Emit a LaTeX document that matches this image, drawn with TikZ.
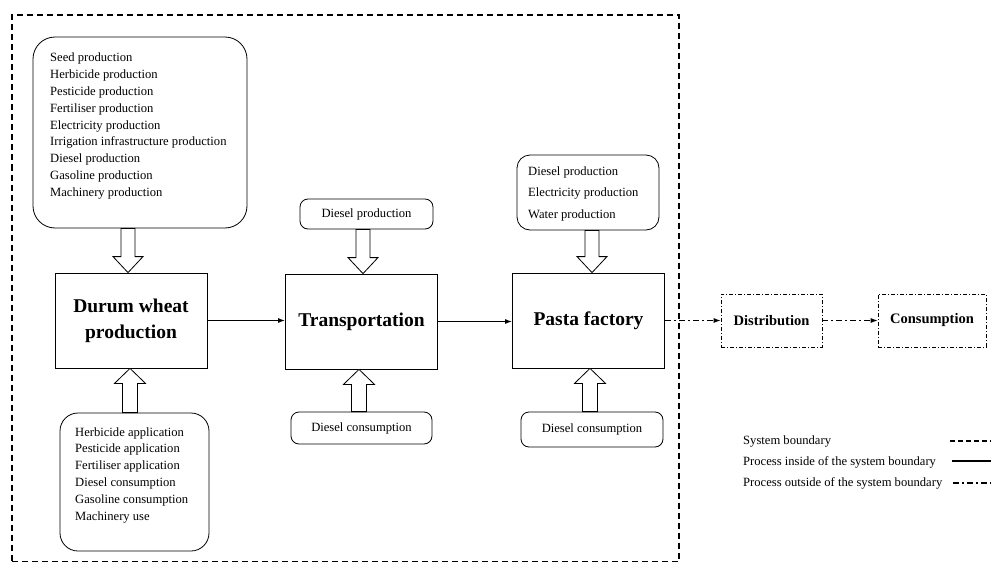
\documentclass[tikz,border=0pt]{standalone}
\usepackage{fontspec}
\setmainfont{Liberation Serif}
\usetikzlibrary{arrows.meta,calc}
\tikzset{
  sysbound/.style={draw, line width=1.3pt, dash pattern=on 6pt off 4pt},
  inbox/.style={draw, line width=0.8pt, inner sep=0pt},
  listtxt/.style={anchor=west, align=left, inner sep=0pt, font=\fontsize{12.6}{16.8}\selectfont},
  proc/.style={draw, line width=0.8pt, minimum width=152pt, minimum height=95pt, align=center, inner sep=0pt, font=\bfseries\fontsize{19.5}{26}\selectfont},
  smallbox/.style={draw, rounded corners=8pt, line width=0.8pt, inner sep=0pt, font=\fontsize{12.6}{15}\selectfont},
  outbox/.style={draw, line width=0.6pt, dash pattern=on 4pt off 2pt on 1pt off 2pt, minimum height=53pt, inner sep=0pt, font=\bfseries\fontsize{14.5}{17}\selectfont},
  flow/.style={-{Latex[length=7pt,width=5pt]}, line width=1.2pt},
  outflow/.style={-{Latex[length=7pt,width=5pt]}, line width=1.1pt, dash pattern=on 6pt off 3pt on 2pt off 3pt},
  blk/.style={draw, line width=0.8pt, fill=white},
  legtxt/.style={anchor=west, inner sep=0pt, font=\fontsize{12.6}{15}\selectfont},
  legdash/.style={line width=1.3pt, dash pattern=on 5pt off 3pt},
  legsolid/.style={line width=1.3pt},
  legdashdot/.style={line width=1.1pt, dash pattern=on 6pt off 3pt on 2pt off 3pt}
}
\newcommand{\hollowdown}[3]{%
  \draw[blk] let \p1=(#2), \p2=(#3) in
    ({(#1-7)*1pt},\y1) -- ({(#1-7)*1pt},{\y2+16pt}) -- ({(#1-15)*1pt},{\y2+16pt}) -- ({#1*1pt},\y2)
    -- ({(#1+15)*1pt},{\y2+16pt}) -- ({(#1+7)*1pt},{\y2+16pt}) -- ({(#1+7)*1pt},\y1) -- cycle;}
\newcommand{\hollowup}[3]{%
  \draw[blk] let \p1=(#2), \p2=(#3) in
    ({(#1-7.5)*1pt},\y1) -- ({(#1-7.5)*1pt},{\y2-15pt}) -- ({(#1-15.5)*1pt},{\y2-15pt}) -- ({#1*1pt},\y2)
    -- ({(#1+15.5)*1pt},{\y2-15pt}) -- ({(#1+7.5)*1pt},{\y2-15pt}) -- ({(#1+7.5)*1pt},\y1) -- cycle;}
\begin{document}
\begin{tikzpicture}[x=1pt,y=-1pt]
\useasboundingbox (0,0) rectangle (991,562);
\node[sysbound, minimum width=667pt, minimum height=546.5pt, inner sep=0pt] (sysb) at (345.5,288.25) {};

% farm inputs
\node[inbox, rounded corners=22pt, minimum width=214pt, minimum height=191pt] (inA) at (140,132.5) {};
\node[listtxt] (inAt) at (50,126) {Seed production\\Herbicide production\\Pesticide production\\Fertiliser production\\Electricity production\\Irrigation infrastructure production\\Diesel production\\Gasoline production\\Machinery production};

\node[proc] (durum) at (131,320.5) {Durum wheat\\production};

\node[inbox, rounded corners=18pt, minimum width=149pt, minimum height=138pt] (inB) at (134.5,482) {};
\node[listtxt] (inBt) at (75,475) {Herbicide application\\Pesticide application\\Fertiliser application\\Diesel consumption\\Gasoline consumption\\Machinery use};

% transportation
\node[proc] (transp) at (361.5,321.5) {Transportation};
\node[smallbox, minimum width=133pt, minimum height=30pt] (dprod) at (366.5,214) {Diesel production};
\node[smallbox, minimum width=141pt, minimum height=32pt] (dcons1) at (361.5,428) {Diesel consumption};

% pasta factory
\node[proc] (pasta) at (588.5,320.5) {Pasta factory};
\node[inbox, rounded corners=13pt, minimum width=142pt, minimum height=75pt] (inC) at (588,192.5) {};
\node[listtxt, font=\fontsize{12.6}{21.5}\selectfont] (inCt) at (528,193.5) {Diesel production\\Electricity production\\Water production};
\node[smallbox, minimum width=142pt, minimum height=35pt] (dcons2) at (592,429.5) {Diesel consumption};

% outside
\node[outbox, minimum width=101pt] (dist) at (771.5,320.5) {Distribution};
\node[outbox, minimum width=108pt] (cons) at (932,320.5) {Consumption};

% connectors
\draw[flow] (durum.east) -- (transp.west |- durum.east);
\draw[flow] (transp.east) -- (pasta.west |- transp.east);
\draw[outflow] (pasta.east) -- (dist.west);
\draw[outflow] (dist.east) -- (cons.west);

\hollowdown{128}{inA.south}{durum.north}
\hollowup{130}{inB.north}{durum.south}
\hollowdown{363}{dprod.south}{transp.north}
\hollowup{359}{dcons1.north}{transp.south}
\hollowdown{592}{inC.south}{pasta.north}
\hollowup{590}{dcons2.north}{pasta.south}

% legend
\node[legtxt] (l1) at (743,441) {System boundary};
\node[legtxt] (l2) at (743,462) {Process inside of the system boundary};
\node[legtxt] (l3) at (743,483) {Process outside of the system boundary};
\coordinate (l1a) at (950,441); \coordinate (l1b) at (991,441);
\coordinate (l2a) at (952,461); \coordinate (l2b) at (991,461);
\coordinate (l3a) at (953,483); \coordinate (l3b) at (991,483);
\draw[legdash] (l1a) -- (l1b);
\draw[legsolid] (l2a) -- (l2b);
\draw[legdashdot] (l3a) -- (l3b);
\end{tikzpicture}
\end{document}
